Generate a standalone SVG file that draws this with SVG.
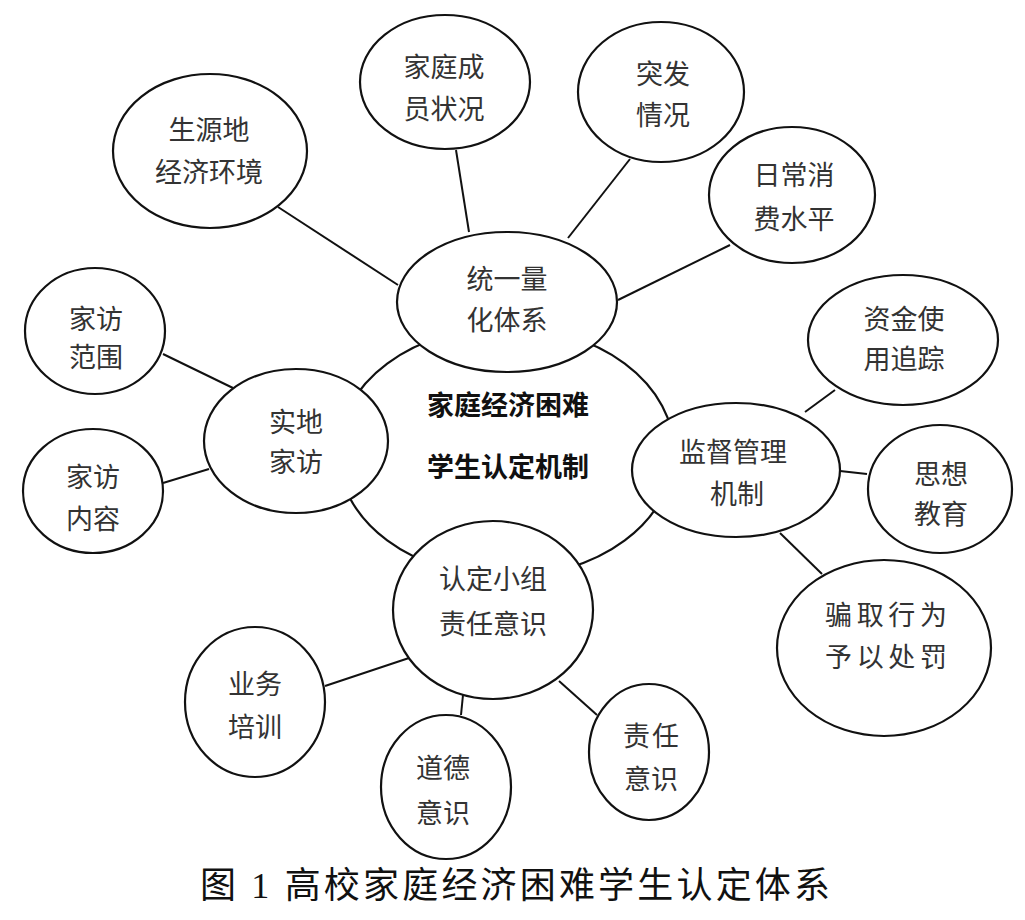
<svg xmlns="http://www.w3.org/2000/svg" width="1025" height="920" viewBox="0 0 1025 920">
<style>
.n{fill:#fff;stroke:#111;stroke-width:2.2}
.c line{stroke:#111;stroke-width:2}
.t{font-family:"Noto Sans CJK SC","Noto Sans",sans-serif;font-size:27px;fill:#333;text-anchor:middle;dominant-baseline:central}
.b{font-family:"Noto Sans CJK SC","Noto Sans",sans-serif;font-size:27px;font-weight:bold;fill:#111;text-anchor:middle;dominant-baseline:central}
.cap{font-family:"Liberation Serif","Noto Sans CJK SC",serif;font-size:36px;fill:#111;text-anchor:middle;dominant-baseline:central}
</style>
<rect width="1025" height="920" fill="#fff"/>
<g id="center">
<ellipse class="n" cx="506" cy="452" rx="168" ry="125"/>
<text class="b" x="508" y="403">家庭经济困难</text>
<text class="b" x="508" y="465">学生认定机制</text>
</g>
<g id="connectors" class="c">
<line x1="278" y1="207" x2="398" y2="285"/>
<line x1="456" y1="150" x2="469" y2="232"/>
<line x1="630" y1="159" x2="568" y2="238"/>
<line x1="730" y1="245" x2="618" y2="300"/>
<line x1="163" y1="354" x2="233" y2="388"/>
<line x1="163" y1="483" x2="209" y2="469"/>
<line x1="835" y1="390" x2="805" y2="412"/>
<line x1="840" y1="471" x2="867" y2="474"/>
<line x1="780" y1="533" x2="822" y2="574"/>
<line x1="325" y1="686" x2="409" y2="658"/>
<line x1="463" y1="695" x2="461" y2="715"/>
<line x1="559" y1="681" x2="597" y2="715"/>
</g>
<g id="quant">
<ellipse class="n" cx="507" cy="302" rx="110" ry="70"/>
<text class="t" x="507" y="277">统一量</text>
<text class="t" x="507" y="318">化体系</text>
</g>
<g id="source">
<ellipse class="n" cx="210" cy="151" rx="97" ry="77"/>
<text class="t" x="209" y="128">生源地</text>
<text class="t" x="209" y="170">经济环境</text>
</g>
<g id="family">
<ellipse class="n" cx="445" cy="82" rx="85" ry="67"/>
<text class="t" x="444" y="65">家庭成</text>
<text class="t" x="444" y="107">员状况</text>
</g>
<g id="sudden">
<ellipse class="n" cx="661" cy="92" rx="83" ry="70"/>
<text class="t" x="663" y="72">突发</text>
<text class="t" x="663" y="113">情况</text>
</g>
<g id="daily">
<ellipse class="n" cx="792" cy="195" rx="83" ry="68"/>
<text class="t" x="794" y="173">日常消</text>
<text class="t" x="794" y="217">费水平</text>
</g>
<g id="visit">
<ellipse class="n" cx="296" cy="441" rx="92" ry="72"/>
<text class="t" x="296" y="420">实地</text>
<text class="t" x="296" y="460">家访</text>
</g>
<g id="scope">
<ellipse class="n" cx="95" cy="331" rx="70" ry="63"/>
<text class="t" x="96" y="317">家访</text>
<text class="t" x="96" y="355">范围</text>
</g>
<g id="content">
<ellipse class="n" cx="93" cy="491" rx="70" ry="62"/>
<text class="t" x="93" y="475">家访</text>
<text class="t" x="93" y="517">内容</text>
</g>
<g id="supervise">
<ellipse class="n" cx="736" cy="470" rx="104" ry="67"/>
<text class="t" x="733" y="450">监督管理</text>
<text class="t" x="737" y="492">机制</text>
</g>
<g id="funds">
<ellipse class="n" cx="903" cy="340" rx="95" ry="65"/>
<text class="t" x="904" y="317">资金使</text>
<text class="t" x="904" y="357">用追踪</text>
</g>
<g id="thought">
<ellipse class="n" cx="940" cy="489" rx="72" ry="64"/>
<text class="t" x="941" y="472">思想</text>
<text class="t" x="941" y="512">教育</text>
</g>
<g id="fraud">
<ellipse class="n" cx="884" cy="648" rx="107" ry="88"/>
<text class="t" x="886" y="613" textLength="122" lengthAdjust="spacing">骗取行为</text>
<text class="t" x="886" y="655" textLength="122" lengthAdjust="spacing">予以处罚</text>
</g>
<g id="group">
<ellipse class="n" cx="493" cy="610" rx="100" ry="89"/>
<text class="t" x="493" y="577">认定小组</text>
<text class="t" x="493" y="622">责任意识</text>
</g>
<g id="training">
<ellipse class="n" cx="255" cy="702" rx="70" ry="75"/>
<text class="t" x="255" y="682">业务</text>
<text class="t" x="255" y="725">培训</text>
</g>
<g id="moral">
<ellipse class="n" cx="446" cy="787" rx="65" ry="72"/>
<text class="t" x="443" y="766">道德</text>
<text class="t" x="443" y="811">意识</text>
</g>
<g id="duty">
<ellipse class="n" cx="649" cy="752" rx="60" ry="68"/>
<text class="t" x="651" y="734" textLength="56" lengthAdjust="spacing">责任</text>
<text class="t" x="651" y="777">意识</text>
</g>
<text class="cap" x="515" y="886" textLength="630" lengthAdjust="spacing">图 1 高校家庭经济困难学生认定体系</text>
</svg>
